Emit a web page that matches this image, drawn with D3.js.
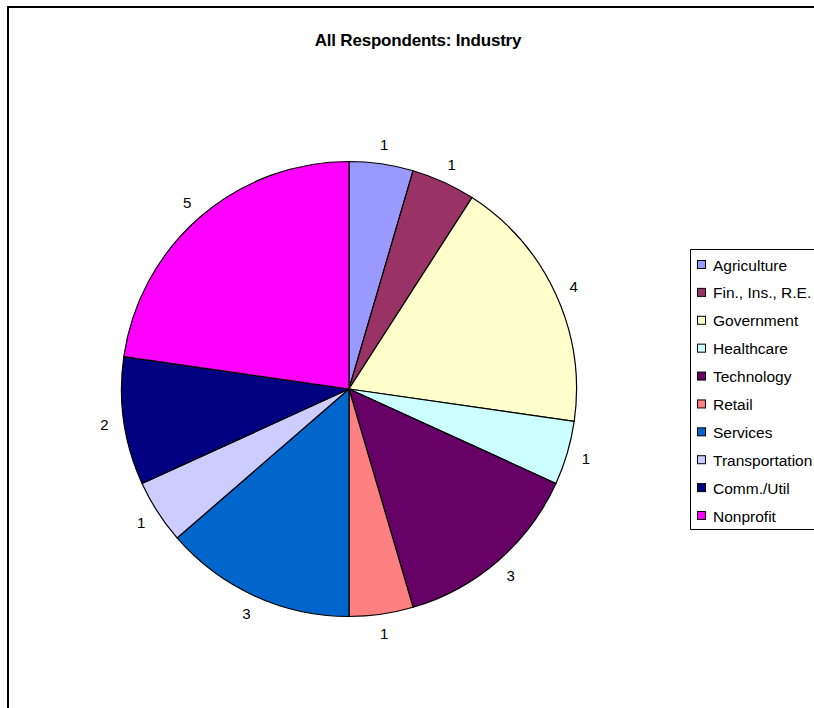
<!DOCTYPE html>
<html>
<head>
<meta charset="utf-8">
<script src="https://cdn.jsdelivr.net/npm/d3@7"></script>
<style>
  html, body { margin: 0; padding: 0; background: #fff; overflow: hidden; }
  svg { display: block; font-family: Arial, "Liberation Sans", sans-serif; }
</style>
</head>
<body>
<svg id="chart" width="814" height="708"></svg>
<script>
// Industry breakdown of all respondents
const categories = ["Agriculture", "Fin., Ins., R.E.", "Government", "Healthcare", "Technology",
                    "Retail", "Services", "Transportation", "Comm./Util", "Nonprofit"];
const counts = [1, 1, 4, 1, 3, 1, 3, 1, 2, 5];
const palette = ["#9999FF", "#993366", "#FFFFCC", "#CCFFFF", "#660066",
                 "#FF8080", "#0066CC", "#CCCCFF", "#000080", "#FF00FF"];
const title = "All Respondents: Industry";

const data = categories.map((c, i) => ({ category: c, value: counts[i] }));

const svg = d3.select("#chart");

// Chart area border: only the left and top edges fall inside the view
svg.append("path")
  .attr("d", "M8,708 L8,7 L814,7")
  .attr("fill", "none")
  .attr("stroke", "#000")
  .attr("stroke-width", 2);

svg.append("text")
  .attr("x", 418).attr("y", 46)
  .attr("text-anchor", "middle")
  .attr("font-weight", "bold")
  .attr("font-size", 17)
  .attr("letter-spacing", "-0.2")
  .text(title);

const cx = 349, cy = 389, radius = 227.5, labelRadius = 247;

const color = d3.scaleOrdinal().domain(categories).range(palette);

const pie = d3.pie()
  .value(d => d.value)
  .sort(null)
  .startAngle(0)
  .endAngle(2 * Math.PI);

const arcs = pie(data);
const arc = d3.arc().innerRadius(0).outerRadius(radius);
const labelArc = d3.arc().innerRadius(labelRadius).outerRadius(labelRadius);

const g = svg.append("g").attr("transform", `translate(${cx},${cy})`);

g.selectAll("path.slice")
  .data(arcs)
  .join("path")
  .attr("class", "slice")
  .attr("d", arc)
  .attr("fill", d => color(d.data.category))
  .attr("stroke", "#000")
  .attr("stroke-width", 1.2)
  .attr("stroke-linejoin", "round");

g.selectAll("text.value")
  .data(arcs)
  .join("text")
  .attr("class", "value")
  .attr("transform", d => `translate(${labelArc.centroid(d)})`)
  .attr("text-anchor", "middle")
  .attr("dominant-baseline", "central")
  .attr("font-size", 15)
  .text(d => d.data.value);

// Legend (box runs off the right edge)
const legend = svg.append("g");
legend.append("path")
  .attr("d", "M814,249.5 L690.5,249.5 L690.5,529.5 L814,529.5")
  .attr("fill", "#fff")
  .attr("stroke", "#000")
  .attr("stroke-width", 1);

const rowY = d3.scalePoint().domain(categories).range([265, 516]);

const rows = legend.selectAll("g.row")
  .data(categories)
  .join("g")
  .attr("class", "row")
  .attr("transform", d => `translate(0,${rowY(d)})`);

rows.append("rect")
  .attr("x", 697.5).attr("y", -4.5)
  .attr("width", 8).attr("height", 8)
  .attr("fill", d => color(d))
  .attr("stroke", "#000")
  .attr("stroke-width", 1);

rows.append("text")
  .attr("x", 713).attr("y", 0)
  .attr("dominant-baseline", "central")
  .attr("font-size", 15.5)
  .text(d => d);
</script>
</body>
</html>
